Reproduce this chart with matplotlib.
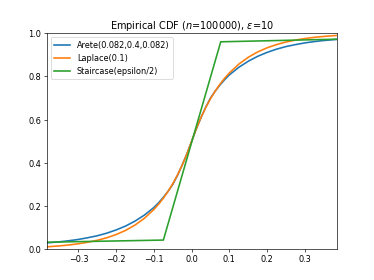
import numpy as np
import matplotlib
matplotlib.use('Agg')
import matplotlib.pyplot as plt

# Values (left half; right half mirrored around 0.5)
x_half = [-0.384, -0.35, -0.325, -0.3, -0.275, -0.25, -0.225, -0.2, -0.175,
          -0.15, -0.125, -0.1, -0.0875, -0.075, -0.0625, -0.05, -0.0375,
          -0.025, -0.0125, 0.0]
arete_half = [0.029, 0.034, 0.039, 0.045, 0.053, 0.062, 0.074, 0.089, 0.107,
              0.130, 0.158, 0.193, 0.215, 0.240, 0.268, 0.300, 0.342,
              0.390, 0.442, 0.5]
laplace_half = [0.0107, 0.0151, 0.0194, 0.0249, 0.0320, 0.0410, 0.0527, 0.0677,
                0.0869, 0.1116, 0.1433, 0.1839, 0.2084, 0.2362, 0.2676, 0.3033,
                0.3436, 0.3894, 0.4412, 0.5]

stair_x = [-0.384, -0.075, 0.077, 0.384]
stair_y = [0.032, 0.042, 0.96, 0.972]

x = np.array(x_half[:-1] + [0.0] + [-v for v in x_half[::-1][1:]])
arete = np.array(arete_half[:-1] + [0.5] + [1 - v for v in arete_half[::-1][1:]])
laplace = np.array(laplace_half[:-1] + [0.5] + [1 - v for v in laplace_half[::-1][1:]])

plt.rcParams['lines.linewidth'] = 2.0

fig = plt.figure(figsize=(6.4, 4.8), dpi=374 / 6.4)
ax = fig.add_subplot(111)
ax.plot(x, arete, label='Arete(0.082,0.4,0.082)')
ax.plot(x, laplace, label='Laplace(0.1)')
ax.plot(stair_x, stair_y, label='Staircase(epsilon/2)')

ax.set_xlim(-0.384, 0.384)
ax.set_ylim(0, 1)
ax.set_title(r'Empirical CDF ($n$=100000), $\epsilon$=10')
ax.legend(loc='upper left')

fig.savefig('out.png', dpi=374 / 6.4)
